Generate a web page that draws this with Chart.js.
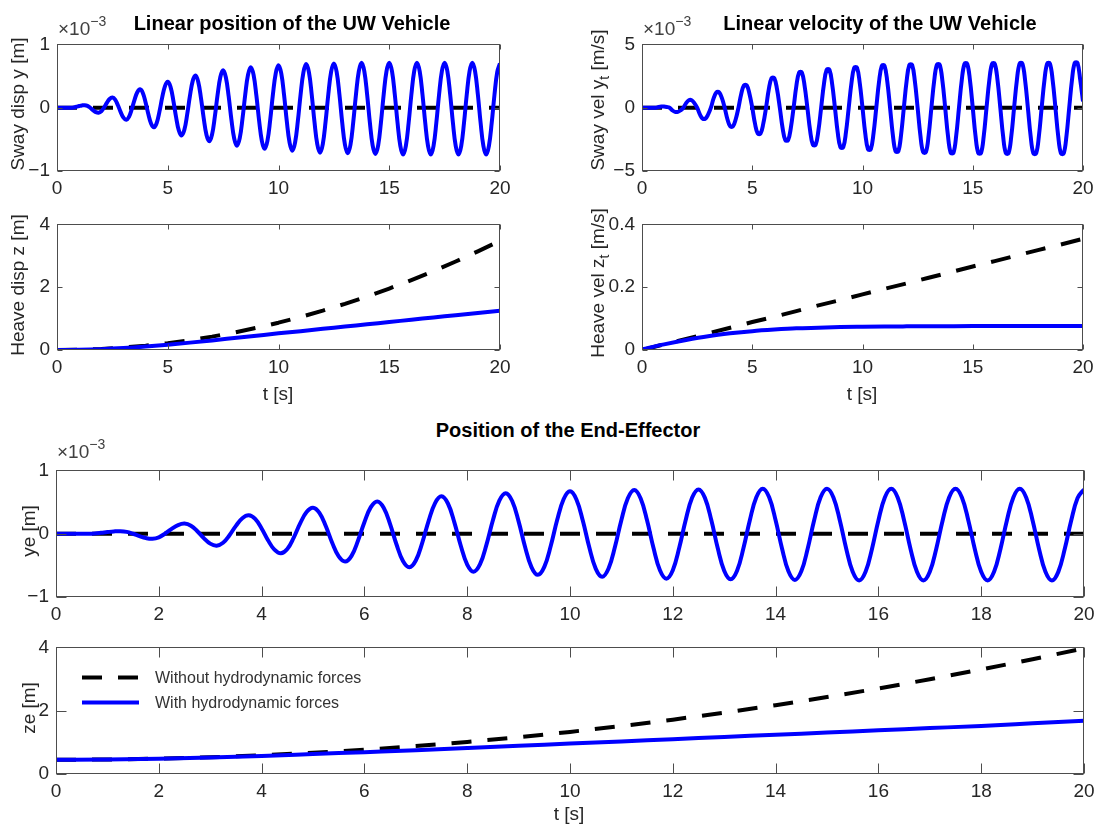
<!DOCTYPE html>
<html>
<head>
<meta charset="utf-8">
<title>UW Vehicle and End-Effector response</title>
<script src="https://cdn.jsdelivr.net/npm/chart.js@4.4.1/dist/chart.umd.min.js"></script>
<style>
  html, body { margin: 0; padding: 0; background: #fff; }
  #fig { position: relative; width: 1098px; height: 832px; overflow: hidden;
         font-family: "Liberation Sans", Arial, Helvetica, sans-serif; color: #262626; }
  #fig canvas { position: absolute; }
  .t { position: absolute; white-space: nowrap; line-height: 1; }
  .ttl { font-weight: bold; font-size: 20px; color: #000; transform: translate(-50%, -50%); }
  .yl { font-size: 19px; transform: translate(-50%, -50%) rotate(-90deg); }
  .xl { font-size: 19px; transform: translate(-50%, -50%); }
  .yl sub { font-size: 14px; vertical-align: -5px; line-height: 0; }
  .mult { font-size: 19px; color: #404040; }
  .mult sup { font-size: 14px; vertical-align: 9px; line-height: 0; }
</style>
</head>
<body>
<div id="fig">
  <div class="t ttl" style="left:292px; top:23px;">Linear position of the UW Vehicle</div>
  <div class="t ttl" style="left:880px; top:23px;">Linear velocity of the UW Vehicle</div>
  <div class="t ttl" style="left:568px; top:430px;">Position of the End-Effector</div>

  <div class="t mult" style="left:58px; top:19px;">×10<sup>−3</sup></div>
  <div class="t mult" style="left:643px; top:19px;">×10<sup>−3</sup></div>
  <div class="t mult" style="left:57px; top:442px;">×10<sup>−3</sup></div>

  <div class="t yl" style="left:17px; top:104px;">Sway disp y [m]</div>
  <div class="t yl" style="left:17px; top:285px;">Heave disp z [m]</div>
  <div class="t yl" style="left:597px; top:100px;">Sway vel y<sub>t</sub> [m/s]</div>
  <div class="t yl" style="left:597px; top:283px;">Heave vel z<sub>t</sub> [m/s]</div>
  <div class="t yl" style="left:28px; top:531px;">ye [m]</div>
  <div class="t yl" style="left:28px; top:708px;">ze [m]</div>

  <div class="t xl" style="left:278px; top:393px;">t [s]</div>
  <div class="t xl" style="left:862px; top:393px;">t [s]</div>
  <div class="t xl" style="left:569px; top:813px;">t [s]</div>
</div>

<script>
// ---- time bases [s] ----
const tFine = [
  0, 0.125, 0.25, 0.375, 0.5, 0.625, 0.75, 0.875,
  1, 1.125, 1.25, 1.375, 1.5, 1.625, 1.75, 1.875,
  2, 2.125, 2.25, 2.375, 2.5, 2.625, 2.75, 2.875,
  3, 3.125, 3.25, 3.375, 3.5, 3.625, 3.75, 3.875,
  4, 4.125, 4.25, 4.375, 4.5, 4.625, 4.75, 4.875,
  5, 5.125, 5.25, 5.375, 5.5, 5.625, 5.75, 5.875,
  6, 6.125, 6.25, 6.375, 6.5, 6.625, 6.75, 6.875,
  7, 7.125, 7.25, 7.375, 7.5, 7.625, 7.75, 7.875,
  8, 8.125, 8.25, 8.375, 8.5, 8.625, 8.75, 8.875,
  9, 9.125, 9.25, 9.375, 9.5, 9.625, 9.75, 9.875,
  10, 10.125, 10.25, 10.375, 10.5, 10.625, 10.75, 10.875,
  11, 11.125, 11.25, 11.375, 11.5, 11.625, 11.75, 11.875,
  12, 12.125, 12.25, 12.375, 12.5, 12.625, 12.75, 12.875,
  13, 13.125, 13.25, 13.375, 13.5, 13.625, 13.75, 13.875,
  14, 14.125, 14.25, 14.375, 14.5, 14.625, 14.75, 14.875,
  15, 15.125, 15.25, 15.375, 15.5, 15.625, 15.75, 15.875,
  16, 16.125, 16.25, 16.375, 16.5, 16.625, 16.75, 16.875,
  17, 17.125, 17.25, 17.375, 17.5, 17.625, 17.75, 17.875,
  18, 18.125, 18.25, 18.375, 18.5, 18.625, 18.75, 18.875,
  19, 19.125, 19.25, 19.375, 19.5, 19.625, 19.75, 19.875,
  20
];
const tCoarse = [0, 1, 2, 3, 4, 5, 6, 7, 8, 9, 10, 11, 12, 13, 14, 15, 16, 17, 18, 19, 20];
const tEnds = [0, 20];

// ---- series names ----
const seriesNames = ['Without hydrodynamic forces', 'With hydrodynamic forces'];

// ---- UW vehicle sway displacement [x1e-3 m] ----
const swayDispNoHydro = [0, 0];
const swayDispHydro = [
  0, 0, 0, 0, 0,
  0, 0.004, 0.014, 0.026, 0.036,
  0.04, 0.029, -0.001, -0.039, -0.069,
  -0.08, -0.057, 0.003, 0.077, 0.137,
  0.16, 0.127, 0.039, -0.069, -0.157,
  -0.19, -0.144, -0.024, 0.124, 0.244,
  0.29, 0.233, 0.083, -0.103, -0.253,
  -0.31, -0.242, -0.062, 0.162, 0.342,
  0.41, 0.329, 0.117, -0.147, -0.359,
  -0.44, -0.35, -0.112, 0.182, 0.42,
  0.51, 0.411, 0.151, -0.171, -0.431,
  -0.53, -0.424, -0.144, 0.204, 0.484,
  0.59, 0.477, 0.18, -0.19, -0.487,
  -0.6, -0.482, -0.172, 0.212, 0.522,
  0.64, 0.517, 0.195, -0.205, -0.527,
  -0.65, -0.524, -0.195, 0.215, 0.544,
  0.67, 0.541, 0.204, -0.214, -0.551,
  -0.68, -0.549, -0.207, 0.217, 0.559,
  0.69, 0.557, 0.207, -0.227, -0.577,
  -0.71, -0.576, -0.223, 0.214, 0.567,
  0.7, 0.566, 0.211, -0.23, -0.585,
  -0.72, -0.585, -0.227, 0.217, 0.575,
  0.71, 0.574, 0.213, -0.233, -0.594,
  -0.73, -0.594, -0.233, 0.213, 0.574,
  0.71, 0.573, 0.21, -0.24, -0.603,
  -0.74, -0.603, -0.24, 0.21, 0.573,
  0.71, 0.573, 0.21, -0.24, -0.603,
  -0.74, -0.603, -0.24, 0.21, 0.573,
  0.71, 0.573, 0.21, -0.24, -0.603,
  -0.74, -0.603, -0.24, 0.21, 0.573,
  0.71, 0.573, 0.21, -0.24, -0.603,
  -0.74, -0.603, -0.243, 0.203, 0.563,
  0.7
];

// ---- UW vehicle sway velocity [x1e-3 m/s] ----
const swayVelNoHydro = [0, 0];
const swayVelHydro = [
  0, 0, 0, 0, 0,
  0, 0.059, 0.095, 0.095, 0.059,
  0, -0.206, -0.333, -0.333, -0.206,
  0, 0.365, 0.59, 0.59, 0.365,
  0, -0.529, -0.856, -0.856, -0.529,
  0, 0.753, 1.217, 1.217, 0.753,
  0, -0.911, -1.474, -1.474, -0.911,
  0, 1.088, 1.759, 1.759, 1.088,
  0, -1.264, -2.045, -2.045, -1.264,
  0, 1.441, 2.33, 2.33, 1.441,
  0, -1.588, -2.568, -2.568, -1.588,
  0, 1.717, 2.777, 2.777, 1.717,
  0, -1.811, -2.929, -2.929, -1.811,
  0, 1.852, 2.996, 2.996, 1.852,
  0, -1.94, -3.138, -3.138, -1.94,
  0, 1.958, 3.167, 3.167, 1.958,
  0, -2.029, -3.281, -3.281, -2.029,
  0, 2.046, 3.309, 3.309, 2.046,
  0, -2.129, -3.443, -3.443, -2.129,
  0, 2.087, 3.376, 3.376, 2.087,
  0, -2.176, -3.519, -3.519, -2.176,
  0, 2.105, 3.405, 3.405, 2.105,
  0, -2.205, -3.566, -3.566, -2.205,
  0, 2.146, 3.471, 3.471, 2.146,
  0, -2.217, -3.585, -3.585, -2.217,
  0, 2.146, 3.471, 3.471, 2.146,
  0, -2.223, -3.595, -3.595, -2.223,
  0, 2.158, 3.49, 3.49, 2.158,
  0, -2.234, -3.614, -3.614, -2.234,
  0, 2.158, 3.49, 3.49, 2.158,
  0, -2.234, -3.614, -3.614, -2.234,
  0, 2.187, 3.538, 3.538, 2.187,
  0.5
];

// ---- UW vehicle heave displacement [m] and velocity [m/s] ----
const heaveDispNoHydro = [0, 0.009, 0.035, 0.078, 0.139, 0.218, 0.313, 0.426, 0.557, 0.705, 0.87,
                          1.053, 1.253, 1.47, 1.705, 1.958, 2.227, 2.514, 2.819, 3.141, 3.48];
const heaveDispHydro   = [0, 0.005, 0.025, 0.06, 0.11, 0.17, 0.235, 0.305, 0.38, 0.455, 0.53,
                          0.6, 0.675, 0.745, 0.82, 0.89, 0.965, 1.035, 1.11, 1.18, 1.25];
const heaveVelNoHydro  = [0, 0.018, 0.035, 0.053, 0.071, 0.089, 0.106, 0.124, 0.142, 0.159, 0.177,
                          0.195, 0.212, 0.23, 0.248, 0.266, 0.283, 0.301, 0.319, 0.336, 0.354];
const heaveVelHydro    = [0.002, 0.018, 0.032, 0.044, 0.053, 0.06, 0.065, 0.069, 0.071, 0.073, 0.074,
                          0.0748, 0.0753, 0.0757, 0.076, 0.0762, 0.0764, 0.0765, 0.0766, 0.0767, 0.0768];

// ---- end-effector lateral position ye [x1e-3 m] ----
const endEffYNoHydro = [0, 0];
const endEffYHydro = [
  0, 0, 0, 0, 0,
  0, 0.004, 0.014, 0.026, 0.036,
  0.04, 0.029, -0.001, -0.039, -0.069,
  -0.08, -0.057, 0.003, 0.077, 0.137,
  0.16, 0.127, 0.039, -0.069, -0.157,
  -0.19, -0.144, -0.024, 0.124, 0.244,
  0.29, 0.233, 0.083, -0.103, -0.253,
  -0.31, -0.242, -0.062, 0.162, 0.342,
  0.41, 0.329, 0.117, -0.147, -0.359,
  -0.44, -0.35, -0.112, 0.182, 0.42,
  0.51, 0.411, 0.151, -0.171, -0.431,
  -0.53, -0.424, -0.144, 0.204, 0.484,
  0.59, 0.477, 0.18, -0.19, -0.487,
  -0.6, -0.482, -0.172, 0.212, 0.522,
  0.64, 0.517, 0.195, -0.205, -0.527,
  -0.65, -0.524, -0.195, 0.215, 0.544,
  0.67, 0.541, 0.204, -0.214, -0.551,
  -0.68, -0.549, -0.207, 0.217, 0.559,
  0.69, 0.557, 0.207, -0.227, -0.577,
  -0.71, -0.576, -0.223, 0.214, 0.567,
  0.7, 0.566, 0.211, -0.23, -0.585,
  -0.72, -0.585, -0.227, 0.217, 0.575,
  0.71, 0.574, 0.213, -0.233, -0.594,
  -0.73, -0.594, -0.233, 0.213, 0.574,
  0.71, 0.573, 0.21, -0.24, -0.603,
  -0.74, -0.603, -0.24, 0.21, 0.573,
  0.71, 0.573, 0.21, -0.24, -0.603,
  -0.74, -0.603, -0.24, 0.21, 0.573,
  0.71, 0.573, 0.21, -0.24, -0.603,
  -0.74, -0.603, -0.24, 0.21, 0.573,
  0.71, 0.573, 0.21, -0.24, -0.603,
  -0.74, -0.603, -0.243, 0.203, 0.563,
  0.7
];

// ---- end-effector vertical position ze [m] ----
const endEffZNoHydro = [0.45, 0.459, 0.485, 0.529, 0.591, 0.67, 0.767, 0.881, 1.013, 1.163, 1.33,
                        1.515, 1.717, 1.937, 2.175, 2.43, 2.703, 2.993, 3.301, 3.627, 3.97];
const endEffZHydro   = [0.45, 0.46, 0.48, 0.52, 0.57, 0.63, 0.69, 0.75, 0.82, 0.89, 0.96,
                        1.03, 1.1, 1.17, 1.24, 1.31, 1.38, 1.45, 1.52, 1.6, 1.68];

// ---- drawing ----
const TXT = '#262626';
const FONT = { family: '"Liberation Sans", Arial, Helvetica, sans-serif', size: 19 };
const fig = document.getElementById('fig');

const pts = (xs, ys) => xs.map((x, i) => ({ x, y: ys[i] }));
const minusSign = v => String(v).replace('-', '\u2212');

function pairOf(tNo, noHydro, tWith, withHydro, smooth) {
  const common = { pointRadius: 0, borderWidth: 4, fill: false, clip: 0,
                   borderCapStyle: 'butt', borderJoinStyle: 'round' };
  const curve = smooth ? { cubicInterpolationMode: 'monotone' } : { tension: 0.4 };
  return [
    Object.assign({ label: seriesNames[0], data: pts(tNo, noHydro), borderColor: '#000000',
                    borderDash: [20, 16], order: 1, tension: 0 }, common),
    Object.assign({ label: seriesNames[1], data: pts(tWith, withHydro), borderColor: '#0000ff',
                    order: 0 }, common, curve)
  ];
}

// axes box with inward ticks on all four sides
const framePlugin = {
  id: 'frame',
  afterDraw(chart, args, opts) {
    const { ctx, chartArea: a } = chart;
    const L = opts.tick || 5;
    const l = Math.round(a.left) + 0.5, r = Math.round(a.right) - 0.5;
    const t = Math.round(a.top) + 0.5, b = Math.round(a.bottom) - 0.5;
    ctx.save();
    ctx.strokeStyle = '#4d4d4d';
    ctx.lineWidth = 1;
    ctx.beginPath();
    chart.scales.x.ticks.forEach(tk => {
      const px = Math.round(chart.scales.x.getPixelForValue(tk.value)) + 0.5;
      ctx.moveTo(px, b); ctx.lineTo(px, b - L);
      ctx.moveTo(px, t); ctx.lineTo(px, t + L);
    });
    chart.scales.y.ticks.forEach(tk => {
      const py = Math.round(chart.scales.y.getPixelForValue(tk.value)) + 0.5;
      ctx.moveTo(l, py); ctx.lineTo(l + L, py);
      ctx.moveTo(r, py); ctx.lineTo(r - L, py);
    });
    ctx.stroke();
    ctx.strokeRect(l, t, r - l, b - t);
    ctx.restore();
  }
};

// boxless legend in the upper-left corner of the axes
const legendPlugin = {
  id: 'plainLegend',
  afterDatasetsDraw(chart, args, opts) {
    if (!opts.show) return;
    const { ctx, chartArea: a } = chart;
    ctx.save();
    ctx.font = '16px "Liberation Sans", Arial, sans-serif';
    ctx.textBaseline = 'middle';
    ctx.fillStyle = '#333333';
    chart.data.datasets.forEach((ds, i) => {
      const y = a.top + 30 + i * 25;
      const x0 = a.left + 26;
      ctx.beginPath();
      ctx.strokeStyle = ds.borderColor;
      ctx.lineWidth = ds.borderWidth;
      ctx.lineCap = 'butt';
      ctx.setLineDash(ds.borderDash || []);
      ctx.moveTo(x0, y); ctx.lineTo(x0 + 57, y);
      ctx.stroke();
      ctx.setLineDash([]);
      ctx.fillText(ds.label, x0 + 73, y + 1);
    });
    ctx.restore();
  }
};

function panel(box, xStep, yMin, yMax, yStep, datasets, tickLen, showLegend) {
  const padL = 52, padR = 26, padT = 14, padB = 34;
  const W = box.w + padL + padR, H = box.h + padT + padB;
  const c = document.createElement('canvas');
  c.width = W; c.height = H;
  c.style.left = (box.x - padL) + 'px';
  c.style.top = (box.y - padT) + 'px';
  c.style.width = W + 'px';
  c.style.height = H + 'px';
  fig.insertBefore(c, fig.firstChild);
  return new Chart(c, {
    type: 'line',
    data: { datasets },
    options: {
      responsive: false, animation: false, devicePixelRatio: 1,
      layout: { padding: { left: 0, right: padR, top: padT, bottom: 0 } },
      events: [],
      plugins: { legend: { display: false }, tooltip: { enabled: false },
                 frame: { tick: tickLen }, plainLegend: { show: !!showLegend } },
      scales: {
        x: {
          type: 'linear', min: 0, max: 20,
          grid: { display: false, drawTicks: false, tickLength: 0 },
          border: { display: false },
          ticks: { stepSize: xStep, padding: 6, color: TXT, font: FONT,
                   maxRotation: 0, autoSkip: false, callback: minusSign },
          afterFit(s) { s.height = padB; }
        },
        y: {
          type: 'linear', min: yMin, max: yMax,
          grid: { display: false, drawTicks: false, tickLength: 0 },
          border: { display: false },
          ticks: { stepSize: yStep, padding: 7, color: TXT, font: FONT,
                   autoSkip: false, callback: minusSign },
          afterFit(s) { s.width = padL; }
        }
      }
    },
    plugins: [framePlugin, legendPlugin]
  });
}

panel({ x: 57, y: 40, w: 443, h: 131 }, 5, -1, 1, 1,
      pairOf(tEnds, swayDispNoHydro, tFine, swayDispHydro, false), 5);
panel({ x: 57, y: 220, w: 443, h: 130 }, 5, 0, 4, 2,
      pairOf(tCoarse, heaveDispNoHydro, tCoarse, heaveDispHydro, true), 5);
panel({ x: 642, y: 40, w: 441, h: 131 }, 5, -5, 5, 5,
      pairOf(tEnds, swayVelNoHydro, tFine, swayVelHydro, false), 5);
panel({ x: 642, y: 220, w: 441, h: 130 }, 5, 0, 0.4, 0.2,
      pairOf(tCoarse, heaveVelNoHydro, tCoarse, heaveVelHydro, true), 5);
panel({ x: 56, y: 466, w: 1028, h: 131 }, 2, -1, 1, 1,
      pairOf(tEnds, endEffYNoHydro, tFine, endEffYHydro, false), 10);
panel({ x: 56, y: 643, w: 1028, h: 131 }, 2, 0, 4, 2,
      pairOf(tCoarse, endEffZNoHydro, tCoarse, endEffZHydro, true), 10, true);
</script>
</body>
</html>
